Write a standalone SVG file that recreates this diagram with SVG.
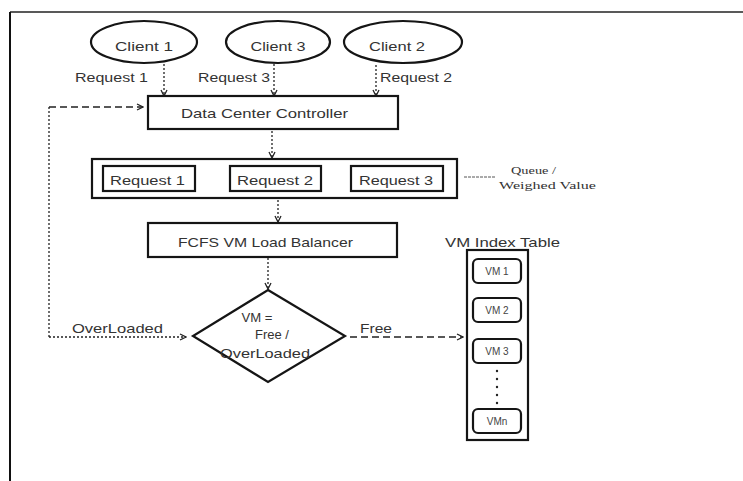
<svg xmlns="http://www.w3.org/2000/svg" width="743" height="481" viewBox="0 0 743 481">
<defs>
<style>
.t{font-family:"Liberation Sans",Arial,sans-serif;fill:#333;font-size:13px}
.s{font-family:"Liberation Serif","Times New Roman",serif;fill:#333;font-size:11px}
.b{fill:#fff;stroke:#151515;stroke-width:2.2}
.c{fill:none;stroke:#222;stroke-width:1.3;stroke-dasharray:2,2}
.d{fill:none;stroke:#222;stroke-width:1.6;stroke-dasharray:7,4}
.vm{font-family:"Liberation Sans",Arial,sans-serif;fill:#444;font-size:10px}
</style>
<marker id="ah" viewBox="0 0 8 8" refX="7" refY="4" markerWidth="8" markerHeight="8" markerUnits="userSpaceOnUse" orient="auto">
<path d="M1,1 L7,4 L1,7" fill="none" stroke="#222" stroke-width="1.3"/>
</marker>
</defs>
<rect width="743" height="481" fill="#fff"/>
<line x1="10" y1="12" x2="743" y2="12" stroke="#222" stroke-width="1.5"/>
<line x1="10" y1="12" x2="10" y2="481" stroke="#111" stroke-width="2"/>

<g id="connectors">
<line class="c" x1="164" y1="64" x2="164" y2="96" marker-end="url(#ah)"/>
<line class="c" x1="274" y1="64" x2="274" y2="96" marker-end="url(#ah)"/>
<line class="c" x1="376" y1="65" x2="376" y2="96" marker-end="url(#ah)"/>
<line class="c" x1="272" y1="131" x2="272" y2="158" marker-end="url(#ah)"/>
<line class="c" x1="278" y1="200" x2="278" y2="222" marker-end="url(#ah)"/>
<line class="c" x1="268" y1="258" x2="268" y2="289" marker-end="url(#ah)"/>
<polyline class="c" points="49,337 49,107"/>
<line class="c" x1="49" y1="337" x2="186" y2="337" marker-end="url(#ah)"/>
<line class="d" x1="49" y1="107" x2="143" y2="107" marker-end="url(#ah)"/>
<line class="d" x1="350" y1="337" x2="463" y2="337" marker-end="url(#ah)"/>
<line x1="464" y1="177" x2="495" y2="177" stroke="#555" stroke-width="1" stroke-dasharray="3,1"/>
</g>

<g id="client1">
<ellipse class="b" cx="144" cy="42" rx="53" ry="21"/>
<text class="t" x="144" y="51" text-anchor="middle" textLength="58" lengthAdjust="spacingAndGlyphs">Client 1</text>
</g>
<g id="client3">
<ellipse class="b" cx="278" cy="42" rx="52" ry="21"/>
<text class="t" x="278" y="51" text-anchor="middle" textLength="55" lengthAdjust="spacingAndGlyphs">Client 3</text>
</g>
<g id="client2">
<ellipse class="b" cx="403" cy="42" rx="59" ry="21"/>
<text class="t" x="397" y="51" text-anchor="middle" textLength="56" lengthAdjust="spacingAndGlyphs">Client 2</text>
</g>

<g id="request-labels">
<text class="t" x="75" y="82" textLength="73" lengthAdjust="spacingAndGlyphs">Request 1</text>
<text class="t" x="198" y="82" textLength="72" lengthAdjust="spacingAndGlyphs">Request 3</text>
<text class="t" x="380" y="82" textLength="72" lengthAdjust="spacingAndGlyphs">Request 2</text>
</g>

<g id="dcc">
<rect class="b" x="148" y="96" width="250" height="33"/>
<text class="t" x="181" y="118" font-size="14" textLength="167" lengthAdjust="spacingAndGlyphs">Data Center Controller</text>
</g>

<g id="queue">
<rect class="b" x="92" y="159" width="365" height="39" stroke-width="2.6"/>
<rect class="b" x="103" y="166" width="92" height="25"/>
<text class="t" x="110" y="185" font-size="14" textLength="75" lengthAdjust="spacingAndGlyphs">Request 1</text>
<rect class="b" x="230" y="166" width="91" height="25"/>
<text class="t" x="237" y="185" font-size="14" textLength="76" lengthAdjust="spacingAndGlyphs">Request 2</text>
<rect class="b" x="351" y="166" width="92" height="25"/>
<text class="t" x="359" y="185" font-size="14" textLength="74" lengthAdjust="spacingAndGlyphs">Request 3</text>
</g>

<g id="queue-note">
<text class="s" x="511" y="174" textLength="45" lengthAdjust="spacingAndGlyphs">Queue /</text>
<text class="s" x="499" y="189" textLength="97" lengthAdjust="spacingAndGlyphs">Weighed Value</text>
</g>

<g id="fcfs">
<rect class="b" x="148" y="223" width="249" height="34"/>
<text class="t" x="178" y="247" font-size="14" textLength="175" lengthAdjust="spacingAndGlyphs">FCFS VM Load Balancer</text>
</g>

<g id="decision">
<polygon class="b" points="268,290 345,336 268,382 193,336"/>
<text class="t" x="257" y="322" font-size="14" text-anchor="middle" textLength="31" lengthAdjust="spacingAndGlyphs">VM =</text>
<text class="t" x="272" y="339" font-size="14" text-anchor="middle" textLength="34" lengthAdjust="spacingAndGlyphs">Free /</text>
<text class="t" x="265" y="358" font-size="14" text-anchor="middle" textLength="90" lengthAdjust="spacingAndGlyphs">OverLoaded</text>
</g>

<g id="edge-labels">
<text class="t" x="72" y="333" font-size="14" textLength="91" lengthAdjust="spacingAndGlyphs">OverLoaded</text>
<text class="t" x="360" y="333" font-size="14" textLength="32" lengthAdjust="spacingAndGlyphs">Free</text>
</g>

<g id="vm-table">
<text class="t" x="445" y="247" font-size="14" textLength="115" lengthAdjust="spacingAndGlyphs">VM Index Table</text>
<rect class="b" x="467" y="250" width="61" height="190" stroke-width="2.6"/>
<rect class="b" x="473" y="259" width="48" height="24" rx="5"/>
<text class="vm" x="497" y="275" text-anchor="middle">VM 1</text>
<rect class="b" x="473" y="298" width="48" height="24" rx="5"/>
<text class="vm" x="497" y="314" text-anchor="middle">VM 2</text>
<rect class="b" x="473" y="339" width="48" height="24" rx="5"/>
<text class="vm" x="497" y="355" text-anchor="middle">VM 3</text>
<g fill="#222">
<circle cx="497" cy="371" r="1.2"/>
<circle cx="497" cy="379" r="1.2"/>
<circle cx="497" cy="387" r="1.2"/>
<circle cx="497" cy="395" r="1.2"/>
<circle cx="497" cy="403" r="1.2"/>
</g>
<rect class="b" x="473" y="409" width="48" height="24" rx="5"/>
<text class="vm" x="497" y="425" text-anchor="middle">VMn</text>
</g>
</svg>
